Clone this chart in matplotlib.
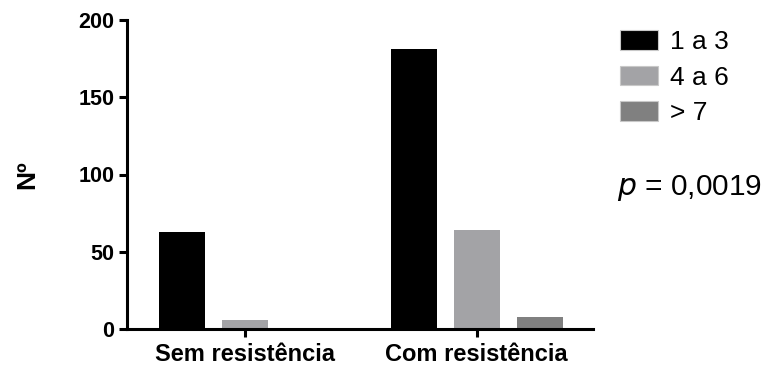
import matplotlib
matplotlib.use("Agg")
import matplotlib.pyplot as plt
import numpy as np
from matplotlib.patches import Patch

plt.rcParams['font.family'] = ['Liberation Sans', 'DejaVu Sans']

groups = ["Sem resistência", "Com resistência"]
series = ["1 a 3", "4 a 6", "> 7"]
values = {
    "1 a 3": [63, 181],
    "4 a 6": [6, 64],
    "> 7": [0, 8],
}
colors = ["#000000", "#a3a3a6", "#808080"]
y_ticks = [0, 50, 100, 150, 200]

fig = plt.figure(figsize=(7.63, 3.67), dpi=100)
ax = fig.add_axes([127 / 763, 1 - 329 / 367, (593 - 127) / 763, (329 - 20) / 367])

x = np.arange(len(groups))
width = 0.1987
step = 0.272
for i, (name, col) in enumerate(zip(series, colors)):
    vals = values[name]
    ax.bar(x + (i - 1) * step, vals, width=width, color=col, edgecolor='none')

ax.set_xlim(-0.5097, 1.503)
ax.set_ylim(0, 200)
ax.set_yticks(y_ticks)
ax.set_xticks(x)
ax.set_xticklabels(groups, fontsize=17, fontweight='bold')
ax.tick_params(axis='y', labelsize=15.5, width=2.2, length=6, direction='out', pad=3)
ax.tick_params(axis='x', width=2.2, length=6, direction='out', pad=4)
for lab in ax.get_yticklabels():
    lab.set_fontweight('bold')
for side in ('top', 'right'):
    ax.spines[side].set_visible(False)
for side in ('left', 'bottom'):
    ax.spines[side].set_linewidth(2.2)
ax.set_ylabel("Nº", fontsize=19, fontweight='bold', labelpad=28)

handles = [Patch(facecolor=c, edgecolor='#c8c8c8', linewidth=0.8) for c in colors]
fig.legend(handles, series, loc='upper left', bbox_to_anchor=(620 / 763, 1 - 30 / 367),
           frameon=False, fontsize=19, handlelength=1.45, handleheight=0.76,
           labelspacing=0.44, handletextpad=0.45, borderaxespad=0, borderpad=0)

fig.text(617 / 763, 1 - 188 / 367, r"$\it{p}$ = 0,0019", fontsize=21.5, va='center', ha='left')

fig.savefig("out.png", dpi=100)
